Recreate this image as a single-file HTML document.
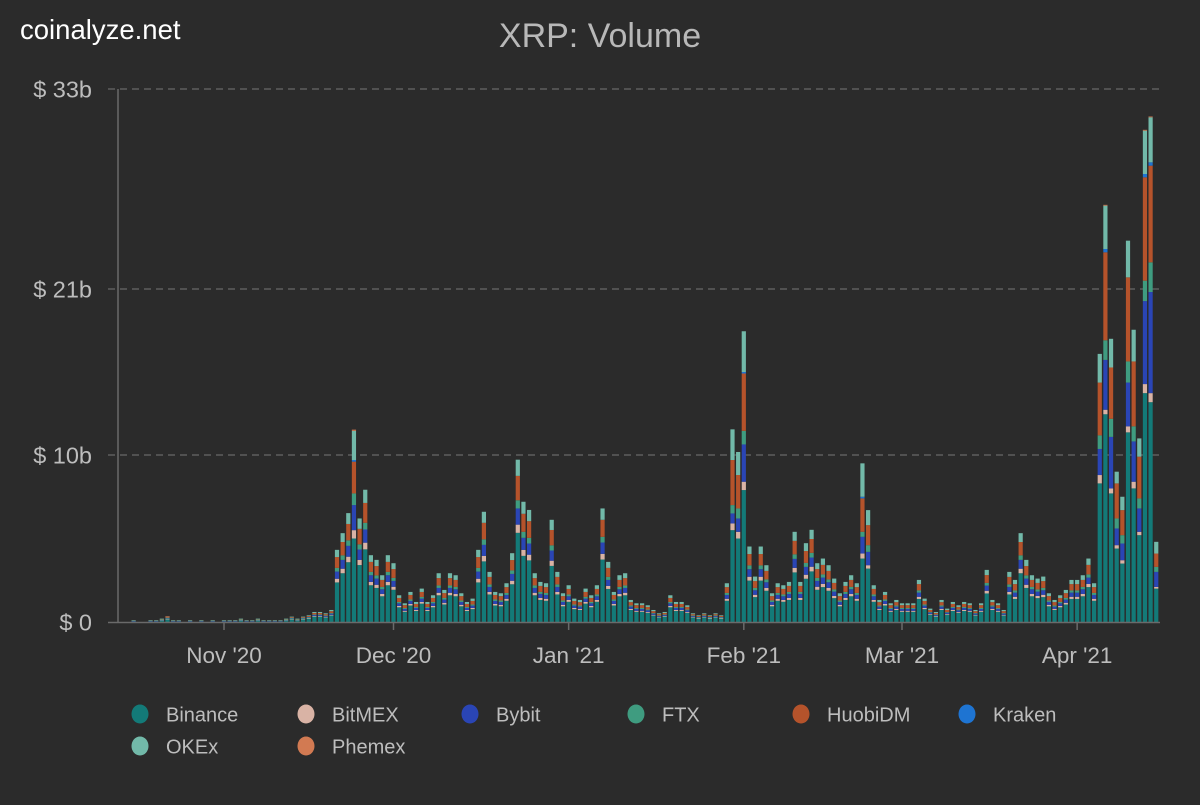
<!DOCTYPE html>
<html><head><meta charset="utf-8"><title>XRP: Volume</title>
<style>
html,body{margin:0;padding:0;background:#2b2b2b;}
body{width:1200px;height:800px;overflow:hidden;font-family:"Liberation Sans",Arial,sans-serif;}
svg text{font-family:"Liberation Sans",Arial,sans-serif;}
</style></head>
<body>
<svg id="chart" width="1200" height="800" viewBox="0 0 1200 800" xmlns="http://www.w3.org/2000/svg">
<rect x="0" y="0" width="1200" height="800" fill="#2b2b2b"/>
<text x="20" y="39" fill="#ffffff" font-size="27.5">coinalyze.net</text>
<text x="600" y="47" fill="#b8b8b8" font-size="34" text-anchor="middle">XRP: Volume</text>
<g id="grid"></g>
<g id="bars"></g>
<g id="axes"></g>
<g id="legend"></g>
</svg>
<script>
// Dates: day 0 = 2020-10-16, 182 daily bars
const startDate = "2020-10-16";
const yTickValues = [0, 10, 21, 33];
const yTickLabels = ["$ 0", "$ 10b", "$ 21b", "$ 33b"];
const xTickLabels = ["Nov '20", "Dec '20", "Jan '21", "Feb '21", "Mar '21", "Apr '21"];
const xTickDays = [16, 46, 77, 108, 136, 167];
const seriesNames = ["Binance","BitMEX","Bybit","FTX","HuobiDM","Kraken","OKEx","Phemex"];

const binance = [.06,0,0,.06,.06,.11,.17,.06,.06,0,.06,0,.06,0,.06,0,.06,.06,.06,.11,.06,.06,.11,.06,.06,.06,.06,.11,.17,.11,.17,.22,.33,.33,.28,.39,
2.37,2.92,3.58,5.0,3.41,4.35,2.2,2.04,1.54,2.2,1.93,.88,.61,.99,.66,1.1,.66,.88,1.6,
1.05,1.6,1.54,.94,.66,.77,2.37,3.63,1.65,.99,.94,1.27,2.26,5.34,3.96,3.69,1.6,1.32,1.27,3.36,1.65,.94,1.21,.77,.72,1.1,.88,1.21,3.74,1.98,.99,1.54,1.6,.72,.61,.61,.55,.39,.28,.33,.88,.66,.66,.55,.28,.22,.28,.22,.28,.22,1.27,
5.5,5.0,7.9,2.48,1.49,2.48,1.87,.94,1.27,1.21,1.32,2.97,1.32,2.59,3.03,1.93,2.09,1.87,1.43,.94,1.32,1.54,1.27,3.8,3.2,1.21,.72,.99,.61,.72,.61,.61,.61,1.38,.77,.44,.33,.72,.44,.66,.55,.66,.61,.39,.61,1.71,.72,.61,.39,1.65,1.38,2.92,2.04,1.54,1.43,1.49,.94,.72,.88,1.05,1.38,1.38,1.54,2.09,1.27,
8.3,12.7,7.7,4.4,3.5,11.5,8.0,5.2,14.1,13.5,2.0];

const bitmex = [0,0,0,0,0,.01,.02,0,0,0,0,0,0,0,0,0,0,0,0,.01,0,0,.01,0,0,0,0,.01,.02,.01,.02,.02,.03,.03,.03,.04,
.22,.27,.33,.5,.31,.4,.2,.19,.14,.2,.18,.08,.06,.09,.06,.1,.06,.08,.15,
.1,.15,.14,.09,.06,.07,.22,.33,.15,.09,.09,.12,.21,.49,.36,.34,.15,.12,.12,.31,.15,.09,.11,.07,.07,.1,.08,.11,.34,.18,.09,.14,.15,.07,.06,.06,.05,.04,.03,.03,.08,.06,.06,.05,.03,.02,.03,.02,.03,.02,.12,
.4,.4,.5,.23,.14,.23,.17,.09,.12,.11,.12,.27,.12,.24,.28,.18,.19,.17,.13,.09,.12,.14,.12,.3,.2,.11,.07,.09,.06,.07,.06,.06,.06,.13,.07,.04,.03,.07,.04,.06,.05,.06,.06,.04,.06,.16,.07,.06,.04,.15,.13,.27,.19,.14,.13,.14,.09,.07,.08,.1,.13,.13,.14,.19,.12,
.5,.3,.3,.2,.2,.4,.4,.2,.6,.6,.1];

const bybit = [.01,0,0,.01,.01,.02,.03,.01,.01,0,.01,0,.01,0,.01,0,.01,.01,.01,.02,.01,.01,.02,.01,.01,.01,.01,.02,.03,.02,.03,.04,.06,.06,.05,.07,
.43,.53,.65,1.5,.62,.79,.4,.37,.28,.4,.35,.16,.11,.18,.12,.2,.12,.16,.29,
.19,.29,.28,.17,.12,.14,.43,.66,.3,.18,.17,.23,.41,.97,.72,.67,.29,.24,.23,.61,.3,.17,.22,.14,.13,.2,.16,.22,.68,.36,.18,.28,.29,.13,.11,.11,.1,.07,.05,.06,.16,.12,.12,.1,.05,.04,.05,.04,.05,.04,.23,
.6,.8,2.3,.45,.27,.45,.34,.17,.23,.22,.24,.54,.24,.47,.55,.35,.38,.34,.26,.17,.24,.28,.23,1.0,.8,.22,.13,.18,.11,.13,.11,.11,.11,.25,.14,.08,.06,.13,.08,.12,.1,.12,.11,.07,.11,.31,.13,.11,.07,.3,.25,.53,.37,.28,.26,.27,.17,.13,.16,.19,.25,.25,.28,.38,.23,
1.6,3.3,3.2,1.0,1.0,2.9,2.5,1.4,5.5,6.7,.9];

const ftx = [0,0,0,0,0,.01,.02,0,0,0,0,0,0,0,0,0,0,0,0,.01,0,0,.01,0,0,0,0,.01,.02,.01,.02,.02,.03,.03,.03,.04,
.22,.27,.33,.7,.31,.4,.2,.19,.14,.2,.18,.08,.06,.09,.06,.1,.06,.08,.15,
.1,.15,.14,.09,.06,.07,.22,.33,.15,.09,.09,.12,.21,.49,.36,.34,.15,.12,.12,.31,.15,.09,.11,.07,.07,.1,.08,.11,.34,.18,.09,.14,.15,.07,.06,.06,.05,.04,.03,.03,.08,.06,.06,.05,.03,.02,.03,.02,.03,.02,.12,
.5,.6,.9,.23,.14,.23,.17,.09,.12,.11,.12,.27,.12,.24,.28,.18,.19,.17,.13,.09,.12,.14,.12,.3,.4,.11,.07,.09,.06,.07,.06,.06,.06,.13,.07,.04,.03,.07,.04,.06,.05,.06,.06,.04,.06,.16,.07,.06,.04,.15,.13,.27,.19,.14,.13,.14,.09,.07,.08,.1,.13,.13,.14,.19,.12,
.9,1.3,1.2,.6,.5,1.4,1.0,.6,1.3,1.8,.3];

const huobi = [.02,0,0,.02,.02,.03,.05,.02,.02,0,.02,0,.02,0,.02,0,.02,.02,.02,.03,.02,.02,.03,.02,.02,.02,.02,.03,.05,.03,.05,.06,.09,.09,.08,.11,
.65,.8,.98,1.9,.93,1.19,.6,.56,.42,.6,.53,.24,.17,.27,.18,.3,.18,.24,.44,
.29,.44,.42,.26,.18,.21,.65,.99,.45,.27,.26,.35,.62,1.46,1.08,1.0,.44,.36,.35,.92,.45,.26,.33,.21,.2,.3,.24,.33,1.02,.54,.27,.42,.44,.2,.17,.17,.15,.11,.08,.09,.24,.18,.18,.15,.08,.06,.08,.06,.08,.06,.35,
2.7,2.0,3.8,.68,.41,.68,.51,.26,.35,.33,.36,.81,.36,.71,.83,.53,.57,.51,.39,.26,.36,.42,.35,2.0,1.2,.33,.2,.27,.17,.2,.17,.17,.17,.38,.21,.12,.09,.2,.12,.18,.15,.18,.17,.11,.17,.47,.2,.17,.11,.45,.38,.8,.56,.42,.39,.41,.26,.2,.24,.29,.38,.38,.42,.57,.35,
3.5,5.6,3.4,2.1,1.5,5.5,4.3,2.5,6.2,5.8,.8];

const kraken = [0,0,0,0,0,0,0,0,0,0,0,0,0,0,0,0,0,0,0,0,0,0,0,0,0,0,0,0,0,0,0,0,0,0,0,0,
0,0,0,.1,0,0,0,0,0,0,0,0,0,0,0,0,0,0,0,
0,0,0,0,0,0,0,0,0,0,0,0,0,0,0,0,0,0,0,0,0,0,0,0,0,0,0,0,0,0,0,0,0,0,0,0,0,0,0,0,0,0,0,0,0,0,0,0,0,0,0,
0,0,.1,0,0,0,0,0,0,0,0,0,0,0,0,0,0,0,0,0,0,0,0,.1,0,0,0,0,0,0,0,0,0,0,0,0,0,0,0,0,0,0,0,0,0,0,0,0,0,0,0,0,0,0,0,0,0,0,0,0,0,0,0,0,0,
0,.2,0,0,0,0,0,0,.2,.2,0];

const okex = [.01,0,0,.01,.01,.02,.03,.01,.01,0,.01,0,.01,0,.01,0,.01,.01,.01,.02,.01,.01,.02,.01,.01,.01,.01,.02,.03,.02,.03,.04,.06,.06,.05,.07,
.43,.53,.65,1.9,.62,.79,.4,.37,.28,.4,.35,.16,.11,.18,.12,.2,.12,.16,.29,
.19,.29,.28,.17,.12,.14,.43,.66,.3,.18,.17,.23,.41,.97,.72,.67,.29,.24,.23,.61,.3,.17,.22,.14,.13,.2,.16,.22,.68,.36,.18,.28,.29,.13,.11,.11,.1,.07,.05,.06,.16,.12,.12,.1,.05,.04,.05,.04,.05,.04,.23,
2.0,1.4,2.7,.45,.27,.45,.34,.17,.23,.22,.24,.54,.24,.47,.55,.35,.38,.34,.26,.17,.24,.28,.23,2.0,.9,.22,.13,.18,.11,.13,.11,.11,.11,.25,.14,.08,.06,.13,.08,.12,.1,.12,.11,.07,.11,.31,.13,.11,.07,.3,.25,.53,.37,.28,.26,.27,.17,.13,.16,.19,.25,.25,.28,.38,.23,
1.9,2.6,1.9,.7,.8,2.2,2.1,1.2,2.6,2.7,.7];

const phemex = [0,0,0,0,0,0,.02,0,0,0,0,0,0,0,0,0,0,0,0,0,0,0,0,0,0,0,0,0,0,0,0,0,0,0,0,0,
0,0,0,.08,0,0,0,0,0,0,0,0,0,0,0,0,0,0,0,
0,0,0,0,0,0,0,0,0,0,0,0,0,0,0,0,0,0,0,0,0,0,0,0,0,0,0,0,0,0,0,0,0,0,0,0,0,0,0,0,0,0,0,0,0,0,0,0,0,0,0,
0,0,0,0,0,0,0,0,0,0,0,0,0,0,0,0,0,0,0,0,0,0,0,0,0,0,0,0,0,0,0,0,0,0,0,0,0,0,0,0,0,0,0,0,0,0,0,0,0,0,0,0,0,0,0,0,0,0,0,0,0,0,0,0,0,
0,.05,0,0,0,0,0,0,.05,.05,0];

const seriesColors = ["#137a78","#d9b3a5","#2a45b5","#3f9c80","#b5532b","#1e74d2","#72b9a9","#d27a52"];
const seriesData = [binance, bitmex, bybit, ftx, huobi, kraken, okex, phemex];

const NS = "http://www.w3.org/2000/svg";
const plotLeft = 118, plotRight = 1160;
const yTickPix = [622, 455, 289, 89];
function yScale(v){
  for (let k = 0; k < yTickValues.length - 1; k++){
    if (v <= yTickValues[k+1] || k === yTickValues.length - 2){
      const t = (v - yTickValues[k]) / (yTickValues[k+1] - yTickValues[k]);
      return yTickPix[k] + t * (yTickPix[k+1] - yTickPix[k]);
    }
  }
}
const dayPx = 5.65;
function xScale(day){ return 224 + (day - 16) * dayPx; }
function mk(tag, attrs, parent){
  const e = document.createElementNS(NS, tag);
  for (const k in attrs) e.setAttribute(k, attrs[k]);
  parent.appendChild(e);
  return e;
}
const grid = document.getElementById('grid');
const bars = document.getElementById('bars');
const axes = document.getElementById('axes');
const legend = document.getElementById('legend');

yTickValues.forEach((v, i) => {
  const y = yScale(v);
  if (i > 0){
    const l = mk('line', {x1: 108, x2: plotRight, y1: y, y2: y, stroke: '#5e5e5e', 'stroke-width': 1.5, 'stroke-dasharray': '7,5'}, grid);
    
    
  }
  const t = mk('text', {x: 92, y: y + 8.5, fill: '#bdbdbd', 'font-size': 23.5, 'text-anchor': 'end'}, axes);
  t.textContent = yTickLabels[i];
  
  
});

const n = binance.length;
for (let d = 0; d < n; d++){
  const cx = xScale(d);
  let cum = 0;
  const g = mk('g', {}, bars);
  
  
  for (let s = 0; s < seriesData.length; s++){
    const v = seriesData[s][d] || 0;
    if (v <= 0) continue;
    const y0 = yScale(cum), y1 = yScale(cum + v);
    cum += v;
    const r = mk('rect', {x: cx - 2.1, y: y1, width: 4.2, height: Math.max(0.6, y0 - y1), fill: seriesColors[s]}, g);
    
    
  }
}

const yAxis = mk('line', {x1: plotLeft, x2: plotLeft, y1: 89, y2: 622, stroke: '#6a6a6a', 'stroke-width': 1.5}, axes);


const xAxis = mk('line', {x1: 108, x2: plotRight, y1: 622.5, y2: 622.5, stroke: '#6a6a6a', 'stroke-width': 1.5}, axes);



xTickLabels.forEach((lab, i) => {
  const x = xScale(xTickDays[i]);
  const tk = mk('line', {x1: x, x2: x, y1: 622, y2: 630, stroke: '#6a6a6a', 'stroke-width': 1.5}, axes);
  
  
  const t = mk('text', {x: x, y: 663, fill: '#bdbdbd', 'font-size': 22.5, 'text-anchor': 'middle'}, axes);
  t.textContent = lab;
  
  
});

const legendX = [140, 306, 470, 636, 801, 967, 140, 306];
const legendY = [714, 714, 714, 714, 714, 714, 746, 746];
seriesNames.forEach((nm, i) => {
  const g = mk('g', {}, legend);
  
  
  mk('ellipse', {cx: legendX[i], cy: legendY[i], rx: 8.5, ry: 9.5, fill: seriesColors[i]}, g);
  const t = mk('text', {x: legendX[i] + 26, y: legendY[i] + 7.5, fill: '#bdbdbd', 'font-size': 20}, g);
  t.textContent = nm;
});
</script>
</body></html>
